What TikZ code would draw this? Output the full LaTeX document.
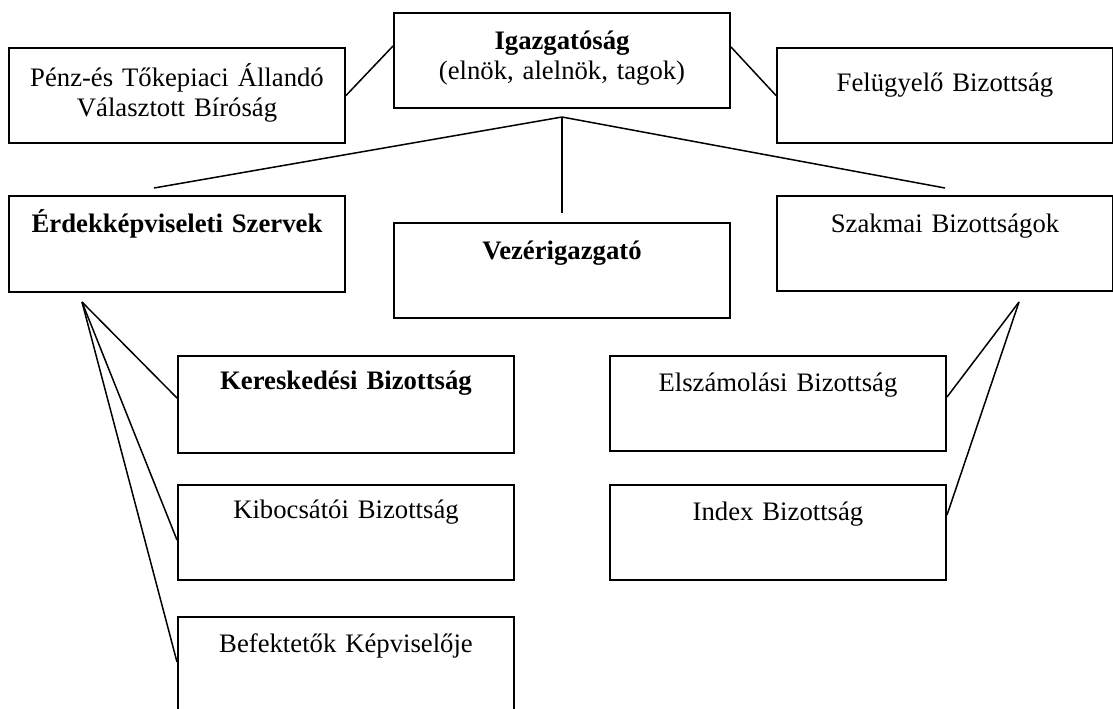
\documentclass[tikz,border=0pt]{standalone}
\usepackage{fontspec}
\setmainfont{Liberation Serif}
\usetikzlibrary{calc}
\tikzset{
  organ/.style={draw,line width=1pt,anchor=north west,inner sep=0pt,
    text width=168pt,align=center,text height=18pt,text depth=29.5pt,
    font=\fontsize{13.35}{15}\selectfont},
  links/.style={line width=0.75pt}
}

\begin{document}
\begin{tikzpicture}[x=0.5pt,y=-0.5pt]
  \useasboundingbox (0,0) rectangle (1113,708);
  % top row
  \node[organ] (igaz) at (393,12) {\textbf{Igazgatóság}\\(elnök, alelnök, tagok)};
  \node[organ,text height=19pt,text depth=28.5pt] (penz) at (8,47) {Pénz-és Tőkepiaci Állandó\\Választott Bíróság};
  \node[organ,text height=21.5pt,text depth=26pt] (felugy) at (776,47) {Felügyelő Bizottság};
  % second row
  \node[organ,text depth=30pt] (erdek) at (8,195) {\textbf{Érdekképviseleti Szervek}};
  \node[organ] (vezer) at (393,222) {\textbf{Vezérigazgató}};
  \node[organ,text depth=29.5pt] (szakmai) at (776,195) {Szakmai Bizottságok};
  % committees
  \node[organ,text height=16.5pt,text depth=32pt] (keresk) at (177,355) {\textbf{Kereskedési Bizottság}};
  \node[organ,text height=16.5pt,text depth=31pt] (kibocs) at (177,484) {Kibocsátói Bizottság};
  \node[organ,text height=17.5pt,text depth=40pt] (befekt) at (177,616) {Befektetők Képviselője};
  \node[organ,text height=17.5pt,text depth=30pt] (elszam) at (609,355) {Elszámolási Bizottság};
  \node[organ,text height=17.5pt,text depth=30pt] (index) at (609,484) {Index Bizottság};

  \coordinate (topfan) at ($(igaz.south)+(0,8)$);
  \coordinate (leftfan) at ($(erdek.south west)+(74,9)$);
  \coordinate (rightfan) at ($(szakmai.south east)+(-95,10)$);

  \path[links]
    (penz.east) edge ($(igaz.north west)+(0,34)$)
    ($(igaz.north east)+(0,35)$) edge (felugy.west)
    (topfan) edge ($(erdek.north)+(-23,-7)$)
    (topfan) edge ($(vezer.north)+(0,-9)$)
    (topfan) edge ($(szakmai.north)+(0,-7)$)
    (leftfan) edge ($(keresk.north west)+(0,43)$)
    (leftfan) edge ($(kibocs.north west)+(0,56)$)
    (leftfan) edge ($(befekt.north west)+(0,46)$)
    (rightfan) edge ($(elszam.north east)+(0,42)$)
    (rightfan) edge ($(index.north east)+(0,31)$);
\end{tikzpicture}
\end{document}
